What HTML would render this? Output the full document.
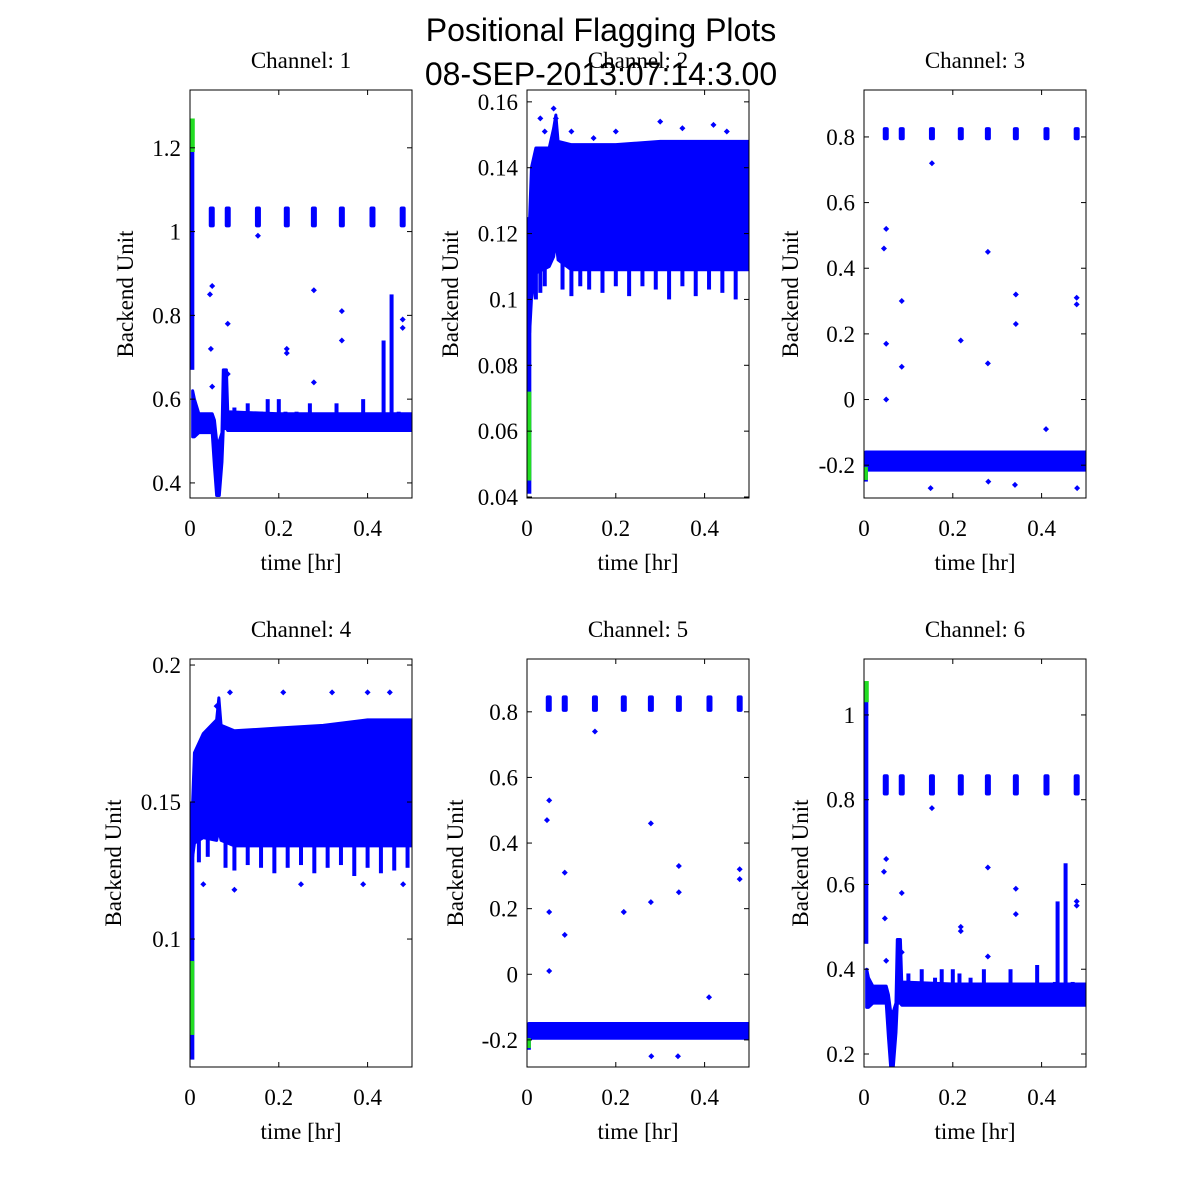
<!DOCTYPE html>
<html><head><meta charset="utf-8">
<style>
body{margin:0;background:#fff;}
svg{display:block;}
.tk{font-family:"Liberation Serif",serif;font-size:23px;fill:#000;}
</style></head>
<body>
<svg id="chart" width="1200" height="1200" viewBox="0 0 1200 1200" xmlns="http://www.w3.org/2000/svg">
<rect width="1200" height="1200" fill="#fff"/>
<text x="601" y="41" text-anchor="middle" font-family="Liberation Sans,sans-serif" font-size="32">Positional Flagging Plots</text>
<text x="601" y="85" text-anchor="middle" font-family="Liberation Sans,sans-serif" font-size="32">08-SEP-2013:07:14:3.00</text>
</svg>
<script>
// ---- data ----
const panelTitles = ["Channel: 1","Channel: 2","Channel: 3","Channel: 4","Channel: 5","Channel: 6"];
const xTicks = [0, 0.2, 0.4];
const xTickLabels = ["0","0.2","0.4"];
const yDomains = [[0.364,1.338],[0.0397,0.1636],[-0.30,0.943],[0.0533,0.2022],[-0.2826,0.961],[0.1693,1.132]];
const yTicks = [[0.4,0.6,0.8,1,1.2],[0.04,0.06,0.08,0.1,0.12,0.14,0.16],[-0.2,0,0.2,0.4,0.6,0.8],[0.1,0.15,0.2],[-0.2,0,0.2,0.4,0.6,0.8],[0.2,0.4,0.6,0.8,1]];
const yTickLabels = [["0.4","0.6","0.8","1","1.2"],["0.04","0.06","0.08","0.1","0.12","0.14","0.16"],["-0.2","0","0.2","0.4","0.6","0.8"],["0.1","0.15","0.2"],["-0.2","0","0.2","0.4","0.6","0.8"],["0.2","0.4","0.6","0.8","1"]];
// initial spike near t=0: [t, lo, hi]
const spikes = [[0.003,0.67,1.25],[0.003,0.041,0.125],[0.002,-0.25,-0.17],[0.003,0.056,0.15],[0.002,-0.23,-0.17],[0.003,0.46,1.05]];
const greens = [[0.004,1.19,1.27],[0.003,0.045,0.072],[0.002,-0.245,-0.205],[0.003,0.065,0.092],[0.002,-0.225,-0.195],[0.004,1.03,1.08]];
// main band envelopes
const bandT = [
 [0.006,0.010,0.020,0.050,0.055,0.060,0.066,0.072,0.075,0.082,0.085,0.20,0.35,0.50],
 [0.006,0.010,0.020,0.050,0.060,0.065,0.070,0.10,0.20,0.30,0.40,0.50],
 [0.004,0.010,0.10,0.20,0.30,0.40,0.50],
 [0.006,0.010,0.030,0.060,0.065,0.070,0.10,0.20,0.30,0.40,0.50],
 [0.004,0.010,0.10,0.20,0.30,0.40,0.50],
 [0.006,0.010,0.020,0.050,0.055,0.060,0.066,0.072,0.075,0.082,0.085,0.20,0.35,0.50]];
const bandLo = [
 [0.51,0.51,0.52,0.52,0.44,0.37,0.37,0.45,0.53,0.53,0.525,0.525,0.525,0.525],
 [0.09,0.100,0.108,0.110,0.113,0.118,0.112,0.109,0.109,0.109,0.109,0.109],
 [-0.215,-0.215,-0.215,-0.215,-0.215,-0.215,-0.215],
 [0.13,0.135,0.137,0.136,0.140,0.136,0.134,0.134,0.134,0.134,0.134],
 [-0.195,-0.195,-0.195,-0.195,-0.195,-0.195,-0.195],
 [0.31,0.31,0.32,0.32,0.24,0.17,0.17,0.25,0.32,0.32,0.315,0.315,0.315,0.315]];
const bandHi = [
 [0.62,0.60,0.565,0.565,0.55,0.50,0.50,0.52,0.67,0.67,0.57,0.565,0.565,0.565],
 [0.125,0.140,0.146,0.146,0.152,0.156,0.148,0.147,0.147,0.148,0.148,0.148],
 [-0.16,-0.16,-0.16,-0.16,-0.16,-0.16,-0.16],
 [0.15,0.168,0.175,0.180,0.188,0.178,0.176,0.177,0.178,0.180,0.180],
 [-0.15,-0.15,-0.15,-0.15,-0.15,-0.15,-0.15],
 [0.40,0.38,0.36,0.36,0.34,0.30,0.30,0.32,0.47,0.47,0.37,0.365,0.365,0.365]];
// spikes off the band: times and extreme values
const bumpT = [[0.10,0.13,0.16,0.175,0.20,0.215,0.24,0.27,0.33,0.39,0.43,0.436,0.454,0.47],
 [0.02,0.03,0.04,0.08,0.10,0.12,0.14,0.17,0.20,0.23,0.26,0.29,0.32,0.35,0.38,0.41,0.44,0.47],
 [],
 [0.02,0.04,0.08,0.10,0.13,0.16,0.19,0.22,0.25,0.28,0.31,0.34,0.37,0.40,0.43,0.46,0.49],
 [],
 [0.10,0.13,0.16,0.175,0.20,0.215,0.24,0.27,0.33,0.39,0.43,0.436,0.454,0.47]];
const bumpV = [[0.58,0.59,0.57,0.60,0.60,0.57,0.57,0.59,0.59,0.60,0.55,0.74,0.85,0.57],
 [0.100,0.102,0.104,0.103,0.101,0.104,0.103,0.102,0.104,0.101,0.104,0.103,0.100,0.104,0.101,0.103,0.102,0.100],
 [],
 [0.128,0.130,0.126,0.125,0.127,0.126,0.124,0.126,0.127,0.124,0.126,0.127,0.123,0.126,0.124,0.125,0.126],
 [],
 [0.39,0.40,0.38,0.40,0.40,0.39,0.38,0.40,0.40,0.41,0.37,0.56,0.65,0.37]];
// periodic clusters
const clusterT = [0.049,0.085,0.153,0.218,0.279,0.342,0.411,0.479];
const clusterLo = [1.01,0.78,0.79,0.0,0.80,0.81];
const clusterHi = [1.06,0.83,0.83,0.0,0.85,0.86];
const hasCluster = [1,0,1,0,1,1];
// outliers
const outT = [
 [0.045,0.05,0.047,0.085,0.085,0.218,0.218,0.279,0.279,0.342,0.342,0.479,0.479,0.05,0.153],
 [0.03,0.04,0.06,0.065,0.10,0.15,0.20,0.30,0.35,0.42,0.45],
 [0.045,0.05,0.05,0.085,0.085,0.218,0.279,0.279,0.342,0.342,0.479,0.479,0.153,0.41,0.05,0.15,0.28,0.34,0.48],
 [0.03,0.06,0.09,0.21,0.32,0.40,0.45,0.10,0.25,0.39,0.48],
 [0.045,0.05,0.05,0.085,0.085,0.218,0.218,0.279,0.279,0.342,0.342,0.479,0.479,0.153,0.41,0.05,0.28,0.34],
 [0.045,0.05,0.047,0.085,0.085,0.218,0.218,0.279,0.279,0.342,0.342,0.479,0.479,0.05,0.153]];
const outV = [
 [0.85,0.87,0.72,0.78,0.66,0.72,0.71,0.86,0.64,0.81,0.74,0.79,0.77,0.63,0.99],
 [0.155,0.151,0.158,0.155,0.151,0.149,0.151,0.154,0.152,0.153,0.151],
 [0.46,0.52,0.17,0.30,0.10,0.18,0.45,0.11,0.32,0.23,0.31,0.29,0.72,-0.09,0.0,-0.27,-0.25,-0.26,-0.27],
 [0.12,0.185,0.19,0.19,0.19,0.19,0.19,0.118,0.12,0.12,0.12],
 [0.47,0.53,0.19,0.31,0.12,0.19,0.19,0.46,0.22,0.33,0.25,0.32,0.29,0.74,-0.07,0.01,-0.25,-0.25],
 [0.63,0.66,0.52,0.58,0.44,0.49,0.50,0.64,0.43,0.59,0.53,0.56,0.55,0.42,0.78]];

// ---- layout ----
const colX = [190,527,864];
const rowY = [90,659];
const PW = 222, PH = 408;
const yTitleX = [125,450,790,113,455,800];
const NS = "http://www.w3.org/2000/svg";
const svg = document.getElementById('chart');
function mk(tag, attrs, parent){const e=document.createElementNS(NS,tag);for(const k in attrs)e.setAttribute(k,attrs[k]);(parent||svg).appendChild(e);return e;}
const BLUE="#0000ff", GREEN="#22dd22";

for(let p=0;p<6;p++){
  const x0=colX[p%3], y0=rowY[Math.floor(p/3)];
  const [ymin,ymax]=yDomains[p];
  const sx=t=>x0+t/0.5*PW;
  const sy=v=>y0+PH-(v-ymin)/(ymax-ymin)*PH;
  const g=mk('g',{});
  
  
  const clip=mk('clipPath',{id:'c'+p},g);
  mk('rect',{x:x0,y:y0,width:PW,height:PH},clip);
  const plot=mk('g',{'clip-path':'url(#c'+p+')'},g);
  
  
  // band
  const T=bandT[p],L=bandLo[p],H=bandHi[p];
  let pts=T.map((t,i)=>sx(t)+','+sy(H[i]));
  for(let i=T.length-1;i>=0;i--)pts.push(sx(T[i])+','+sy(L[i]));
  const band=mk('polygon',{points:pts.join(' '),fill:BLUE,stroke:BLUE,'stroke-width':3,'stroke-linejoin':'round'},plot);
  
  
  // bumps
  const n=L.length-1, mid=(L[n]+H[n])/2;
  bumpT[p].forEach((t,i)=>{
    const a=sy(bumpV[p][i]), b=sy(mid);
    const r=mk('rect',{x:sx(t)-2,y:Math.min(a,b),width:4,height:Math.abs(b-a),fill:BLUE},plot);
    
    
  });
  // initial spike
  const s=spikes[p];
  const sp=mk('rect',{x:sx(s[0])-3,y:sy(s[2]),width:6,height:sy(s[1])-sy(s[2]),fill:BLUE},plot);
  
  
  const gr=greens[p];
  const gg=mk('rect',{x:sx(gr[0])-3,y:sy(gr[2]),width:6,height:sy(gr[1])-sy(gr[2]),fill:GREEN},plot);
  
  
  // clusters
  if(hasCluster[p]){
    clusterT.forEach(t=>{
      const c=mk('rect',{x:sx(t)-3,y:sy(clusterHi[p]),width:6,height:sy(clusterLo[p])-sy(clusterHi[p]),fill:BLUE,rx:2},plot);
      
      
    });
  }
  // outliers
  outT[p].forEach((t,i)=>{
    const cx=sx(t),cy=sy(outV[p][i]);
    const d=mk('polygon',{points:`${cx},${cy-3} ${cx+3},${cy} ${cx},${cy+3} ${cx-3},${cy}`,fill:BLUE},plot);
    
    
  });
  // frame
  const fr=mk('rect',{x:x0,y:y0,width:PW,height:PH,fill:'none',stroke:'#000','stroke-width':1},g);
  
  
  // x ticks
  xTicks.forEach((t,i)=>{
    const X=sx(t);
    mk('line',{x1:X,y1:y0+PH,x2:X,y2:y0+PH-5,stroke:'#000'},g);
    mk('line',{x1:X,y1:y0,x2:X,y2:y0+5,stroke:'#000'},g);
    const tl=mk('text',{x:X,y:y0+PH+38,'text-anchor':'middle',class:'tk'},g);
    tl.textContent=xTickLabels[i];
    
    
  });
  yTicks[p].forEach((v,i)=>{
    const Y=sy(v);
    mk('line',{x1:x0,y1:Y,x2:x0+5,y2:Y,stroke:'#000'},g);
    mk('line',{x1:x0+PW,y1:Y,x2:x0+PW-5,y2:Y,stroke:'#000'},g);
    const tl=mk('text',{x:x0-9,y:Y+8,'text-anchor':'end',class:'tk'},g);
    tl.textContent=yTickLabels[p][i];
    
    
  });
  const tt=mk('text',{x:x0+PW/2,y:y0-22,'text-anchor':'middle',class:'tk'},g);
  tt.textContent=panelTitles[p];
  
  
  const xl=mk('text',{x:x0+PW/2,y:y0+PH+72,'text-anchor':'middle',class:'tk'},g);
  xl.textContent='time [hr]';
  
  
  const ylx = yTitleX[p]+8;
  const yl=mk('text',{x:ylx,y:y0+PH/2,'text-anchor':'middle',class:'tk',transform:`rotate(-90 ${ylx} ${y0+PH/2})`},g);
  yl.textContent='Backend Unit';
  
  
}
</script>
</body></html>
